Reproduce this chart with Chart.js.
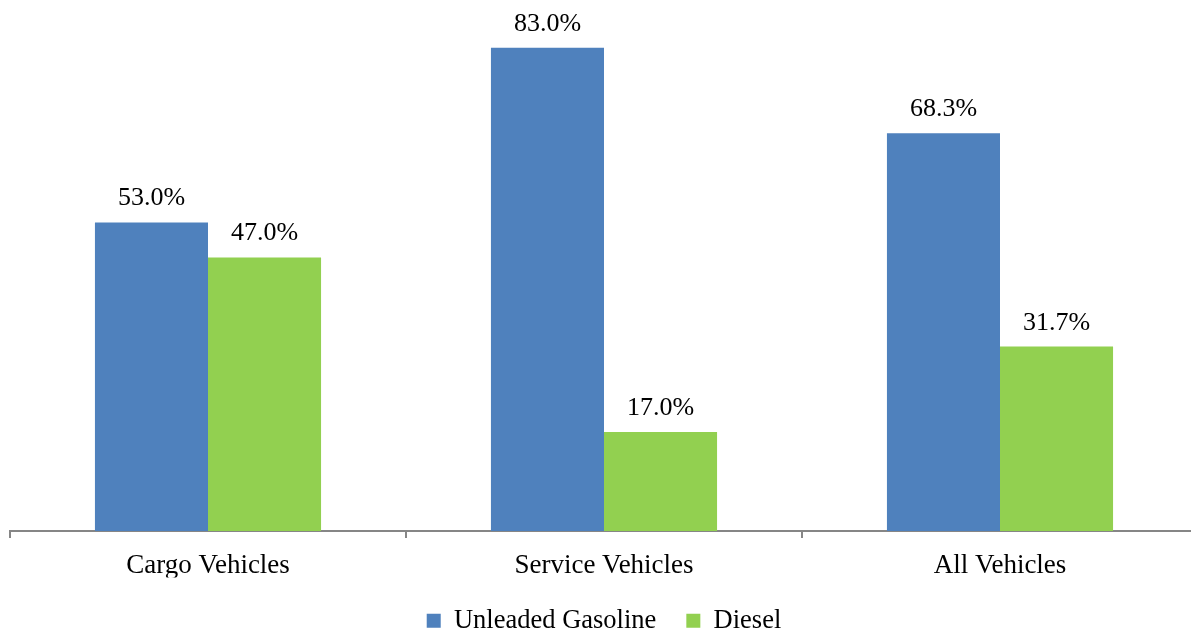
<!DOCTYPE html>
<html>
<head>
<meta charset="utf-8">
<script src="https://cdn.jsdelivr.net/npm/chart.js@4/dist/chart.umd.min.js"></script>
<style>
html,body{margin:0;padding:0;background:#fff;overflow:hidden;}
#wrap{position:absolute;left:0;top:0;width:1208px;height:632px;}
</style>
</head>
<body>
<div id="wrap"><canvas id="c" width="1208" height="632"></canvas></div>
<script>
const categories = ['Cargo Vehicles', 'Service Vehicles', 'All Vehicles'];
const seriesNames = ['Unleaded Gasoline', 'Diesel'];
const gasoline = [53.0, 83.0, 68.3];
const diesel = [47.0, 17.0, 31.7];

const FONT = "'Liberation Serif', 'Times New Roman', serif";

const labelPlugin = {
  id: 'valueLabels',
  afterDatasetsDraw(chart) {
    const ctx = chart.ctx;
    ctx.save();
    ctx.font = '26px ' + FONT;
    ctx.fillStyle = '#000';
    ctx.textAlign = 'center';
    ctx.textBaseline = 'alphabetic';
    chart.data.datasets.forEach((ds, i) => {
      const meta = chart.getDatasetMeta(i);
      meta.data.forEach((el, j) => {
        ctx.fillText(ds.data[j].toFixed(1) + '%', el.x, el.y - 17);
      });
    });
    ctx.restore();
  }
};

new Chart(document.getElementById('c'), {
  type: 'bar',
  data: {
    labels: categories,
    datasets: [
      { label: seriesNames[0], data: gasoline, backgroundColor: '#4F81BD', borderWidth: 0 },
      { label: seriesNames[1], data: diesel, backgroundColor: '#92D050', borderWidth: 0 }
    ]
  },
  options: {
    responsive: false,
    animation: false,
    devicePixelRatio: 1,
    layout: { padding: { left: 10, right: 10, top: 7, bottom: -12 } },
    datasets: { bar: { barPercentage: 1.0, categoryPercentage: 0.571 } },
    scales: {
      x: {
        offset: true,
        afterFit(scale) { scale.height -= 17; },
        grid: { display: true, drawOnChartArea: false, drawTicks: true, tickLength: 7, color: '#868686', lineWidth: 2, offset: true },
        border: { display: true, color: '#868686', width: 2 },
        ticks: { color: '#000', font: { family: FONT, size: 27 }, padding: 12 }
      },
      y: { display: false, min: 0, max: 90 }
    },
    plugins: {
      legend: {
        position: 'bottom',
        labels: { boxWidth: 14, boxHeight: 14, color: '#000', font: { family: FONT, size: 26.5 }, padding: 30 }
      },
      tooltip: { enabled: false }
    }
  },
  plugins: [labelPlugin]
});
</script>
</body>
</html>
